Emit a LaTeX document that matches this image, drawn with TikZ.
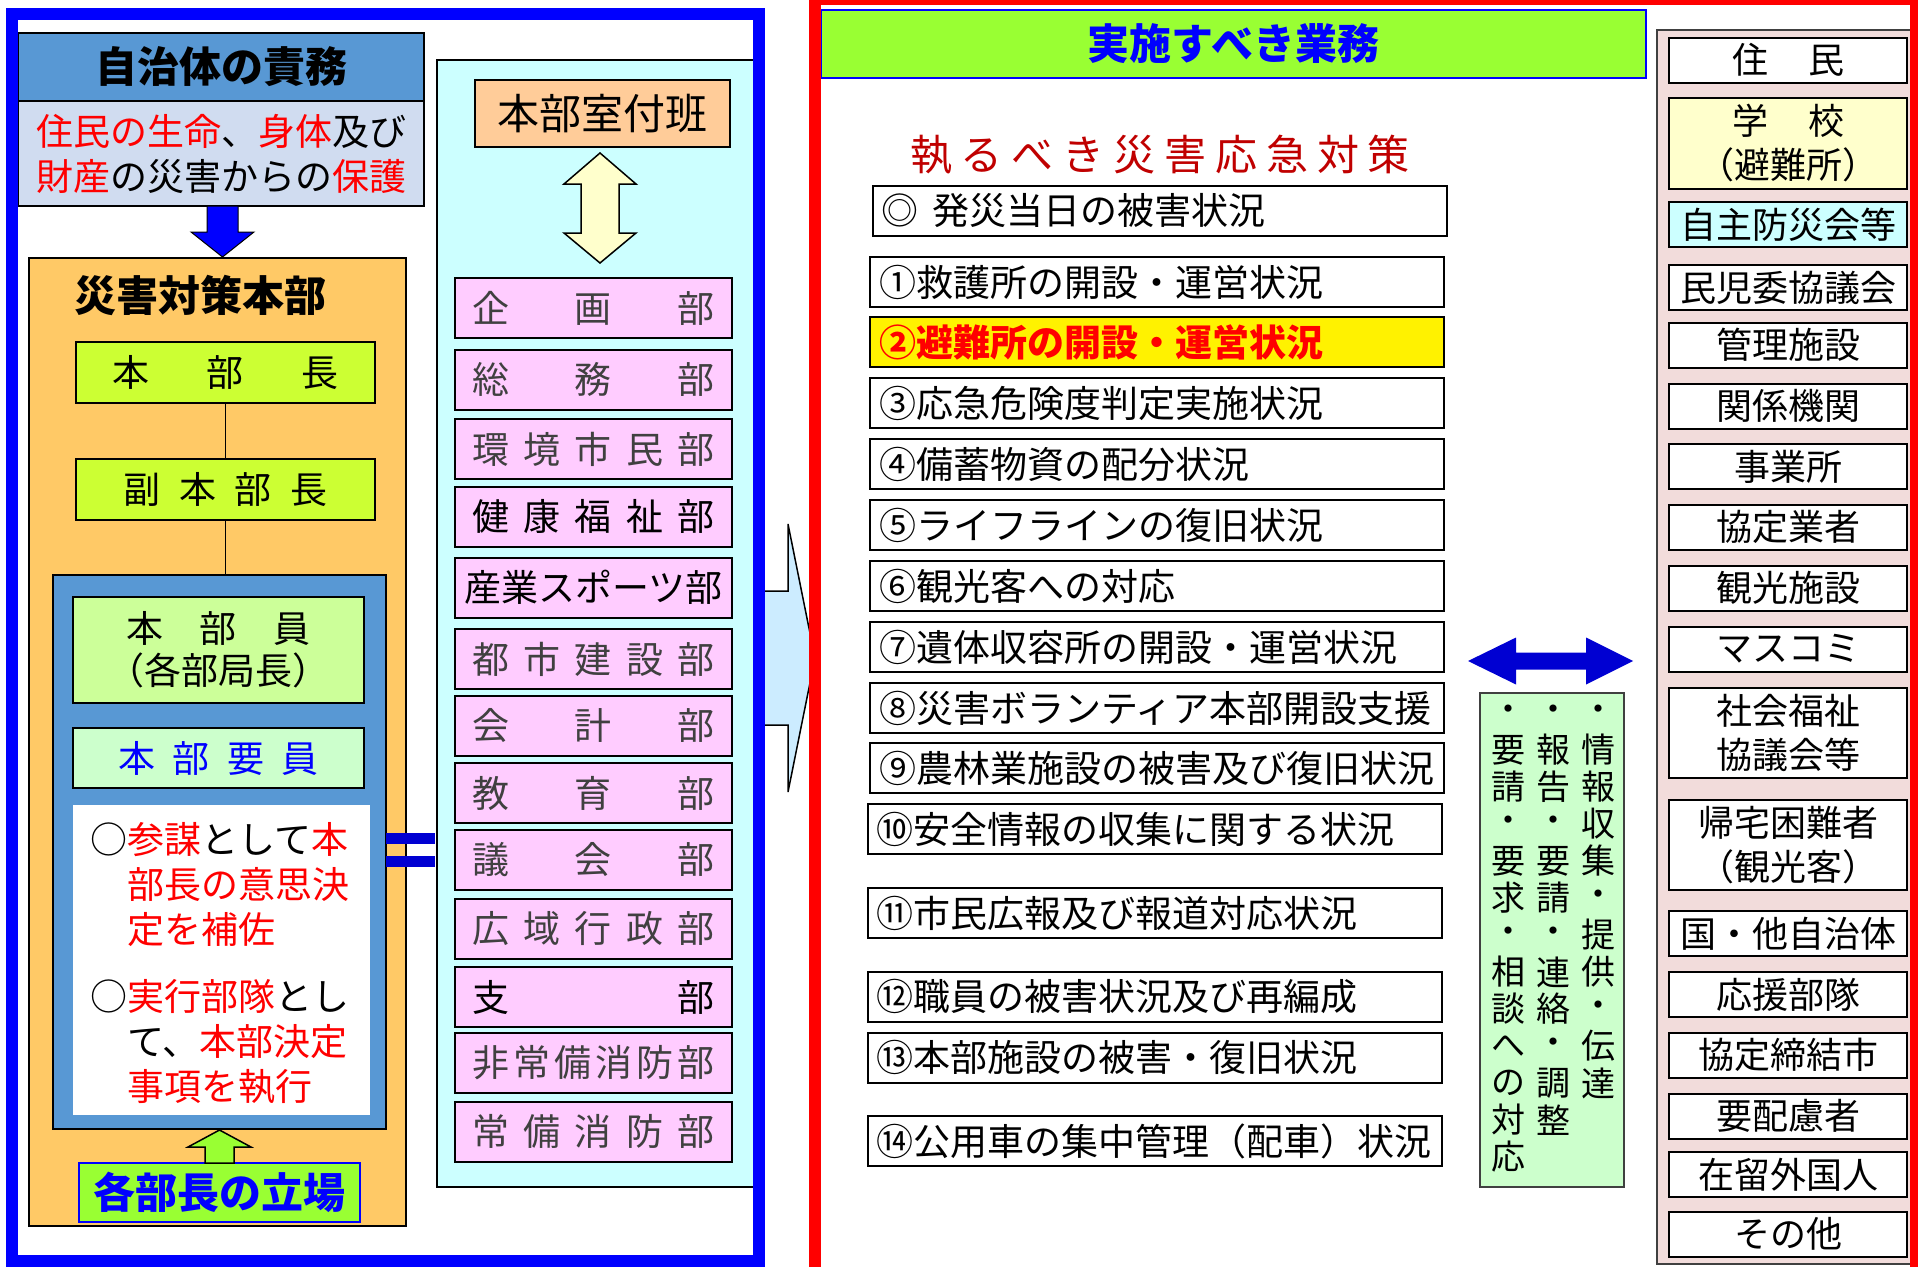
\documentclass[tikz,border=0pt]{standalone}
\usepackage{fontspec}
\setmainfont{Noto Sans CJK JP}
\usepackage{tikz}
\definecolor{hdrblue}{RGB}{88,152,212}
\definecolor{hogogray}{RGB}{208,220,240}
\definecolor{honbuorange}{RGB}{255,201,102}
\definecolor{limegreen}{RGB}{204,255,51}
\definecolor{paleleaf}{RGB}{204,255,153}
\definecolor{mint}{RGB}{204,255,204}
\definecolor{brightgreen}{RGB}{153,255,51}
\definecolor{palecyan}{RGB}{204,255,255}
\definecolor{peach}{RGB}{255,204,153}
\definecolor{cream}{RGB}{255,255,204}
\definecolor{deptpink}{RGB}{255,204,255}
\definecolor{skyblue}{RGB}{204,236,255}
\definecolor{darkred}{RGB}{192,0,0}
\definecolor{rosegray}{RGB}{242,220,219}
\definecolor{deepblue}{RGB}{0,0,210}
\definecolor{textgray}{RGB}{64,64,64}
\newcommand{\rd}[1]{\textcolor{red}{#1}}
\tikzstyle{box}=[
        draw,
        line width=2pt,
        inner sep=0pt,
        align=center,
        font=\fontsize{37}{45}\selectfont
]
\tikzstyle{heading}=[font=\bfseries\fontsize{42}{42}\selectfont]
\tikzstyle{dept}=[box, fill=deptpink, minimum width=277, minimum height=60]
\tikzstyle{task}=[box, minimum width=574, minimum height=50]
\tikzstyle{aite}=[box, fill=white, minimum width=238, font=\fontsize{36}{44}\selectfont]
\tikzstyle{vchar}=[inner sep=0pt, font=\fontsize{34}{34}\selectfont]

\begin{document}
\begin{tikzpicture}[x=1pt,y=-1pt]
                    \useasboundingbox (0,0) rectangle (1918,1266);
                    \fill[white] (0,0) rectangle (1918,1266);

                    % arrow from the left half into the task list
                    \draw[fill=skyblue, line width=1.5pt] (758,591) -- (788,591) -- (788,524) -- (815,658)
                        -- (788,792) -- (788,725) -- (758,725) -- cycle;

                    \node[box, heading, fill=hdrblue, minimum width=406, minimum height=68] (sekimu) at (221,67) {自治体の責務};
                    \node[box, fill=hogogray, minimum width=406, minimum height=105] (hogo) at (221,153.5)
                        {\rd{住民の生命}、\rd{身体}及び\\\rd{財産}の災害からの\rd{保護}};
                    \draw[fill=blue, line width=1pt] (207,206) -- (238,206) -- (238,232) -- (254,232)
                        -- (222.5,257) -- (191,232) -- (207,232) -- cycle;

                    \node[box, line width=1.5pt, fill=honbuorange, minimum width=377, minimum height=968] (honbu) at (217.5,742) {};
                    \node[heading] (honbutitle) at (200,295) {災害対策本部};
                    \node[box, fill=limegreen, minimum width=299, minimum height=61] (honbucho) at (225.5,372.5)
                        {\makebox[226pt]{本\hfill 部\hfill 長}};
                    \node[box, fill=limegreen, minimum width=299, minimum height=61] (fukuhonbucho) at (225.5,489.5)
                        {\makebox[204pt]{副\hfill 本\hfill 部\hfill 長}};
                    \node[box, line width=1.5pt, fill=hdrblue, minimum width=333, minimum height=554] (buin) at (219.5,852) {};
                    \draw[line width=1.5pt] (honbucho) -- (fukuhonbucho);
                    \draw[line width=1.5pt] (fukuhonbucho.south) -- (fukuhonbucho.south |- buin.north);

                    \node[box, fill=paleleaf, minimum width=291, minimum height=106, font=\fontsize{37}{42}\selectfont] (honbuin) at (218.5,650)
                        {\makebox[184pt]{本\hfill 部\hfill 員}\\（各部局長）};
                    \node[box, fill=mint, text=blue, minimum width=291, minimum height=60] (honbuyoin) at (218.5,758)
                        {\makebox[200pt]{本\hfill 部\hfill 要\hfill 員}};
                    \node[fill=white, inner sep=0pt, minimum width=297, minimum height=310] (yakuwari) at (221.5,960) {};
                    \node[anchor=west, align=left, inner sep=0pt, font=\fontsize{37}{45}\selectfont] (sanbo) at (90,885)
                        {○\rd{参謀}として\rd{本}\\\hspace*{1em}\rd{部長の意思決}\\\hspace*{1em}\rd{定を補佐}};
                    \node[anchor=west, align=left, inner sep=0pt, font=\fontsize{37}{45}\selectfont] (jikko) at (90,1042)
                        {○\rd{実行部隊}とし\\\hspace*{1em}て、\rd{本部決定}\\\hspace*{1em}\rd{事項を執行}};

                    \node[box, heading, draw=blue, line width=2.5pt, fill=brightgreen, text=blue, minimum width=281, minimum height=59] (kakubucho) at (219.5,1192.5) {各部長の立場};
                    \draw[fill=brightgreen, line width=1.5pt] (219.5,1130) -- (251,1147) -- (234,1147) -- (234,1163)
                        -- (205,1163) -- (205,1147) -- (188,1147) -- cycle;

                    \fill[deepblue] (386,833) rectangle (435,844);
                    \fill[deepblue] (386,856) rectangle (435,867);

                    % departments
                    \node[box, line width=1.5pt, fill=palecyan, minimum width=317, minimum height=1127] (bumon) at (595.5,623.5) {};
                    \node[box, fill=peach, minimum width=255, minimum height=67, font=\fontsize{42}{42}\selectfont] (fuzokuhan) at (602.5,113.5) {本部室付班};
                    \draw[fill=cream, line width=1.5pt] (600,153) -- (636,184) -- (619,184) -- (619,233) -- (636,233)
                        -- (600,263) -- (564,233) -- (581,233) -- (581,184) -- (564,184) -- cycle;

                    \foreach \yy/\col/\lbl [count=\i] in {
                        308/textgray/{企\hfill 画\hfill 部},
                        379.5/textgray/{総\hfill 務\hfill 部},
                        449/textgray/{環\hfill 境\hfill 市\hfill 民\hfill 部},
                        517/black/{健\hfill 康\hfill 福\hfill 祉\hfill 部},
                        587.5/black/{産業スポーツ部},
                        659/textgray/{都\hfill 市\hfill 建\hfill 設\hfill 部},
                        726/textgray/{会\hfill 計\hfill 部},
                        793/textgray/{教\hfill 育\hfill 部},
                        859.5/textgray/{議\hfill 会\hfill 部},
                        928.5/textgray/{広\hfill 域\hfill 行\hfill 政\hfill 部},
                        997/black/{支\hfill 部},
                        1063/textgray/{非\hfill 常\hfill 備\hfill 消\hfill 防\hfill 部},
                        1131.5/textgray/{常\hfill 備\hfill 消\hfill 防\hfill 部}} {
                        \node[dept, text=\col] (bu\i) at (593.5,\yy) {\makebox[242pt]{\lbl}};
                    }

                    % tasks
                    \node[box, heading, draw=blue, line width=2.5pt, fill=brightgreen, text=blue, minimum width=825, minimum height=68] (gyomu) at (1233.5,44) {実施すべき業務};
                    \node[text=darkred, font=\fontsize{42}{42}\selectfont] (taisaku) at (1160,155)
                        {\makebox[500pt]{執\hfill る\hfill べ\hfill き\hfill 災\hfill 害\hfill 応\hfill 急\hfill 対\hfill 策}};

                    \foreach \nn/\xx/\yy/\lbl in {
                        0/1159.5/211/{◎\hspace{14pt}発災当日の被害状況},
                        1/1157/282/①救護所の開設・運営状況,
                        3/1157/403/③応急危険度判定実施状況,
                        4/1157/464/④備蓄物資の配分状況,
                        5/1157/525/⑤ライフラインの復旧状況,
                        6/1157/586/⑥観光客への対応,
                        7/1157/647/⑦遺体収容所の開設・運営状況,
                        8/1157/708/⑧災害ボランティア本部開設支援,
                        9/1157/768/⑨農林業施設の被害及び復旧状況,
                        10/1154.5/829/⑩安全情報の収集に関する状況,
                        11/1154.5/913/⑪市民広報及び報道対応状況,
                        12/1154.5/996.5/⑫職員の被害状況及び再編成,
                        13/1154.5/1057.5/⑬本部施設の被害・復旧状況,
                        14/1154.5/1141/⑭公用車の集中管理（配車）状況} {
                        \node[task] (task\nn) at (\xx,\yy) {\makebox[556pt][l]{\lbl}};
                    }
                    \node[task, fill=yellow, text=red, font=\bfseries\fontsize{37}{45}\selectfont] (task2) at (1157,342)
                        {\makebox[556pt][l]{②避難所の開設・運営状況}};

                    % counterparts
                    \node[box, draw=darkgray, fill=rosegray, minimum width=259, minimum height=1234] (soto) at (1786.5,647) {};
                    \foreach \yy/\hh/\bg/\lbl [count=\i] in {
                        60/45/white/{\makebox[112pt]{住\hfill 民}},
                        143.5/91/cream/{\makebox[112pt]{学\hfill 校}\\（避難所）},
                        224.5/45/palecyan/自主防災会等,
                        287.5/45/white/民児委協議会,
                        345/45/white/管理施設,
                        406/45/white/関係機関,
                        466.5/45/white/事業所,
                        527/45/white/協定業者,
                        588/45/white/観光施設,
                        649/45/white/マスコミ,
                        733/90/white/{社会福祉\\協議会等},
                        845/90/white/{帰宅困難者\\（観光客）},
                        933.5/45/white/国・他自治体,
                        994.5/45/white/応援部隊,
                        1055/45/white/協定締結市,
                        1116/45/white/要配慮者,
                        1174.5/45/white/在留外国人,
                        1234/45/white/その他} {
                        \node[aite, fill=\bg, minimum height=\hh] (aite\i) at (1788,\yy) {\lbl};
                    }

                    \node[box, draw=darkgray, fill=mint, minimum width=144, minimum height=494] (renraku) at (1552,940) {};
                    \foreach \c [count=\k] in {・,情,報,収,集,・,提,供,・,伝,達} {
                        \node[vchar] (ka\k) at (1598,{713+37*(\k-1)}) {\c};
                    }
                    \foreach \c [count=\k] in {・,報,告,・,要,請,・,連,絡,・,調,整} {
                        \node[vchar] (kb\k) at (1553,{713+37*(\k-1)}) {\c};
                    }
                    \foreach \c [count=\k] in {・,要,請,・,要,求,・,相,談,へ,の,対,応} {
                        \node[vchar] (kc\k) at (1508,{713+37*(\k-1)}) {\c};
                    }
                    \fill[deepblue] (1468,661) -- (1516,637.5) -- (1516,652.5) -- (1586,652.5) -- (1586,637.5)
                        -- (1633,661) -- (1586,684.5) -- (1586,669.5) -- (1516,669.5) -- (1516,684.5) -- cycle;

                    % frames
                    \draw[blue, line width=12pt] (12,14) rectangle (759,1261);
                    \draw[red, line width=12pt] (815,-1) rectangle (1916,1280);
                \end{tikzpicture}
\end{document}
